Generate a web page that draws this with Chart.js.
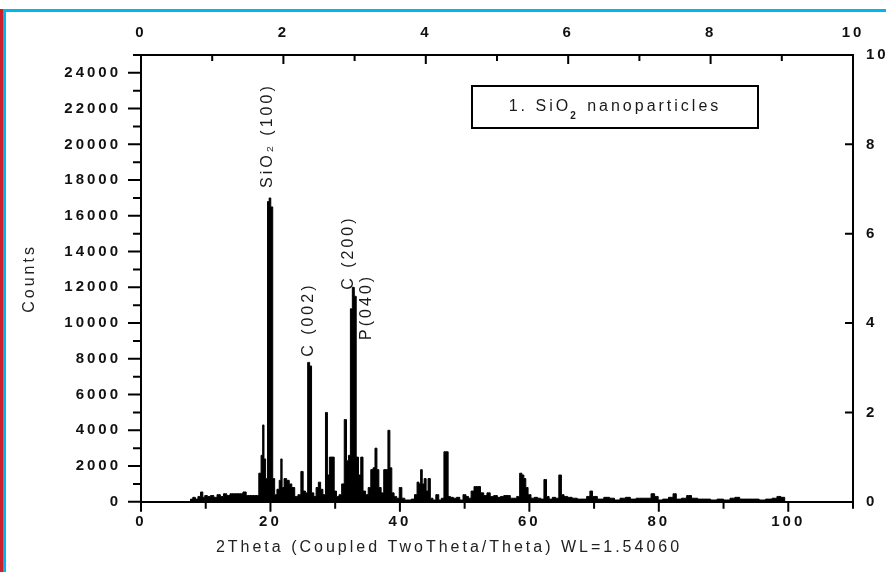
<!DOCTYPE html>
<html><head><meta charset="utf-8">
<script src="https://cdn.jsdelivr.net/npm/chart.js@4.4.1/dist/chart.umd.min.js"></script>
<style>
html,body{margin:0;padding:0;background:#fff;}
#wrap{position:relative;width:886px;height:572px;overflow:hidden;background:#fff;}
canvas{position:absolute;left:0;top:0;}
.s{position:absolute;}
</style></head><body>
<div id="wrap">
<canvas id="c" width="886" height="572"></canvas>
<div class="s" style="left:0;top:9px;width:3px;height:563px;background:#c8202c"></div>
<div class="s" style="left:3px;top:9px;width:3px;height:563px;background:#00b6f1"></div>
<div class="s" style="left:3px;top:9px;width:883px;height:3px;background:#00b6f1"></div>
</div>
<script>
// ---- data ----
const twoTheta = [7.5,7.8,8.2,8.6,9.0,9.4,9.7,10.0,10.5,11.0,11.5,12.0,12.5,13.0,13.5,14.0,14.5,15.0,15.5,16.0,16.5,17.0,17.5,18.0,
18.4,18.7,18.9,19.1,19.4,19.7,19.9,20.2,20.5,20.8,21.2,21.5,21.7,21.9,22.3,22.7,23.1,23.5,24.0,24.5,24.9,25.2,25.6,25.9,26.2,26.5,
26.9,27.2,27.6,27.9,28.3,28.7,28.9,29.3,29.7,30.0,30.4,30.8,31.2,31.6,31.9,32.2,32.5,32.8,33.1,33.4,33.8,34.1,34.5,34.9,35.3,35.7,
36.0,36.3,36.6,36.9,37.3,37.7,38.0,38.3,38.6,38.9,39.3,39.7,40.1,40.5,41.0,41.5,42.0,42.5,42.8,43.1,43.3,43.6,43.9,44.2,44.5,44.9,
45.3,45.8,46.2,46.6,47.0,47.3,47.6,48.0,48.5,49.0,49.5,50.0,50.4,50.8,51.2,51.7,52.2,52.7,53.2,53.7,54.2,54.8,55.3,55.8,56.3,56.8,
57.3,57.8,58.3,58.7,59.0,59.3,59.6,60.0,60.5,61.0,61.5,62.0,62.5,62.8,63.3,63.8,64.3,64.8,65.1,65.6,66.2,67.0,67.8,68.5,69.2,69.5,
70.0,71.0,72.0,72.8,73.5,74.5,75.2,76.0,77.0,78.5,79.1,79.6,80.2,81.0,82.0,82.4,83.0,84.0,84.6,85.5,86.5,87.5,88.5,89.5,90.5,91.5,
92.0,93.0,94.0,95.0,96.0,97.0,98.0,98.5,99.2,99.7];
const counts = [0,150,250,150,300,550,250,350,300,350,250,400,300,450,350,450,450,450,450,550,350,350,350,350,
1600,2600,4300,2400,1300,16800,17000,16500,1300,400,700,1200,2400,800,1300,1200,1000,800,300,400,1700,600,500,7800,7600,500,
300,800,1100,700,400,5000,1500,2500,2500,600,300,400,1000,4600,2300,2600,10800,12000,11500,2500,1500,2500,600,400,800,1800,
1900,3000,1800,800,500,1800,1800,4000,1900,500,300,200,800,200,100,100,150,400,1100,1000,1800,1000,1300,600,1300,200,
100,400,100,200,2800,2800,300,250,200,250,100,400,300,200,600,850,850,500,350,500,300,350,250,300,350,350,
200,200,300,1600,1500,1300,800,400,200,250,200,150,1250,300,150,250,200,1500,400,300,250,200,150,150,300,600,
300,150,250,200,100,200,250,150,200,200,450,300,100,150,250,450,150,200,350,200,150,150,100,150,100,200,
250,150,150,150,100,150,200,300,250,0];

const bottomTickLabels = [0,20,40,60,80,100];
const leftTickLabels = [0,2000,4000,6000,8000,10000,12000,14000,16000,18000,20000,22000,24000];
const topTickLabels = [0,2,4,6,8,10];
const rightTickLabels = [0,2,4,6,8,10];

const peakNames = ['SiO\u2082 (100)', 'C (002)', 'C (200)', 'P(040)'];
const peakAt = [19.6, 25.95, 32.1, 34.9];
const peakLabelBase = [17560, 8110, 11860, 9060];

const legendText = ['1. SiO', '2', ' nanoparticles'];
const xTitle = '2Theta (Coupled TwoTheta/Theta) WL=1.54060';
const yTitle = 'Counts';

const FONT = "'Liberation Sans', Arial, sans-serif";
const SPACING = '3px';

const spacingPlugin = {
  id: 'spacing',
  beforeDraw(chart){ chart.ctx.letterSpacing = SPACING; }
};

const tickMarks = {
  id: 'tickMarks',
  afterDraw(chart){
    const ctx = chart.ctx, ca = chart.chartArea, s = chart.scales;
    ctx.save();
    ctx.strokeStyle = '#000';
    ctx.lineWidth = 2;
    ctx.beginPath();
    s.x.ticks.forEach(t => {
      const p = s.x.getPixelForValue(t.value);
      const L = Math.round(t.value) % 20 === 0 ? 10 : 7;
      ctx.moveTo(p, ca.bottom); ctx.lineTo(p, ca.bottom + L);
    });
    s.y.ticks.forEach(t => {
      const p = s.y.getPixelForValue(t.value);
      const L = Math.round(t.value) % 2000 === 0 ? 13 : 8;
      ctx.moveTo(ca.left, p); ctx.lineTo(ca.left - L, p);
    });
    s.x2.ticks.forEach(t => {
      const p = s.x2.getPixelForValue(t.value);
      const L = Math.round(t.value) % 2 === 0 ? 9 : 6;
      ctx.moveTo(p, ca.top); ctx.lineTo(p, ca.top + L);
    });
    s.y2.ticks.forEach(t => {
      if (t.value <= 0 || t.value >= 10) return;
      const p = s.y2.getPixelForValue(t.value);
      ctx.moveTo(ca.right, p); ctx.lineTo(ca.right - 8, p);
    });
    ctx.stroke();
    ctx.restore();
  }
};

const annotations = {
  id: 'annotations',
  afterDatasetsDraw(chart){
    const ctx = chart.ctx, ca = chart.chartArea, {x, y} = chart.scales;
    ctx.save();
    ctx.letterSpacing = SPACING;
    ctx.fillStyle = '#1a1a1a';
    ctx.font = '16px ' + FONT;
    ctx.textBaseline = 'middle';
    ctx.textAlign = 'left';
    peakNames.forEach((t, i) => {
      const px = x.getPixelForValue(peakAt[i]);
      const py = y.getPixelForValue(peakLabelBase[i]);
      ctx.save();
      ctx.translate(px, py);
      ctx.rotate(-Math.PI / 2);
      ctx.fillText(t, 0, 0);
      ctx.restore();
    });
    // legend box
    const bx = ca.left + 331, by = ca.top + 31, bw = 286, bh = 42;
    ctx.strokeStyle = '#000';
    ctx.lineWidth = 2;
    ctx.strokeRect(bx, by, bw, bh);
    const f1 = '16px ' + FONT, f2 = 'bold 10px ' + FONT;
    ctx.font = f1; const w1 = ctx.measureText(legendText[0]).width;
    ctx.font = f2; const w2 = ctx.measureText(legendText[1]).width;
    ctx.font = f1; const w3 = ctx.measureText(legendText[2]).width;
    let tx = bx + bw / 2 - (w1 + w2 + w3) / 2;
    const ty = by + bh / 2;
    ctx.textBaseline = 'middle';
    ctx.font = f1; ctx.fillText(legendText[0], tx, ty); tx += w1;
    ctx.font = f2; ctx.fillText(legendText[1], tx - 1, ty + 9); tx += w2;
    ctx.font = f1; ctx.fillText(legendText[2], tx, ty);
    ctx.restore();
  }
};

const tickFont = {family: FONT, size: 15, weight: 'bold'};
const axisBorder = {display: true, color: '#000', width: 2};
const noGrid = {display: false, drawTicks: false};

new Chart(document.getElementById('c'), {
  type: 'line',
  data: {
    datasets: [{
      data: twoTheta.map((t, i) => ({x: t, y: counts[i]})),
      borderColor: '#000',
      backgroundColor: '#000',
      borderWidth: 1,
      pointRadius: 0,
      fill: 'origin',
      stepped: 'middle',
      xAxisID: 'x',
      yAxisID: 'y'
    }]
  },
  options: {
    responsive: false,
    animation: false,
    devicePixelRatio: 1,
    layout: {padding: {left: 12, right: 0, top: 0, bottom: 0}},
    plugins: {
      legend: {display: false},
      tooltip: {enabled: false},
      title: {
        display: true, position: 'bottom', text: xTitle, color: '#222',
        font: {family: FONT, size: 16, weight: 'normal', lineHeight: 1.2},
        padding: {top: 1, bottom: 15}
      }
    },
    scales: {
      x: {
        type: 'linear', position: 'bottom', min: 0, max: 110,
        afterFit(s){ s.height = 35; },
        grid: noGrid, border: axisBorder,
        ticks: {stepSize: 10, autoSkip: false, maxRotation: 0, padding: 11, color: '#111', font: tickFont,
          callback: v => bottomTickLabels.includes(Math.round(v)) ? String(Math.round(v)) : ''}
      },
      y: {
        type: 'linear', position: 'left', min: 0, max: 25000,
        afterFit(s){ s.width = 129; },
        grid: noGrid, border: axisBorder,
        ticks: {stepSize: 1000, autoSkip: false, padding: 20, color: '#111', font: tickFont,
          callback: v => leftTickLabels.includes(Math.round(v)) ? String(Math.round(v)) : ''},
        title: {display: true, text: yTitle, color: '#222', font: {family: FONT, size: 16}, padding: {top: 8, bottom: 0}}
      },
      x2: {
        type: 'linear', position: 'top', min: 0, max: 10,
        afterFit(s){ s.height = 55; },
        grid: noGrid, border: axisBorder,
        ticks: {stepSize: 1, autoSkip: false, maxRotation: 0, padding: 13, color: '#111', font: tickFont,
          callback: v => topTickLabels.includes(Math.round(v)) ? String(Math.round(v)) : ''}
      },
      y2: {
        type: 'linear', position: 'right', min: 0, max: 10,
        afterFit(s){ s.width = 33; },
        grid: noGrid, border: axisBorder,
        ticks: {stepSize: 2, autoSkip: false, padding: 13, color: '#111', font: tickFont,
          callback: v => rightTickLabels.includes(Math.round(v)) ? String(Math.round(v)) : ''}
      }
    }
  },
  plugins: [spacingPlugin, annotations, tickMarks]
});
</script>
</body></html>
